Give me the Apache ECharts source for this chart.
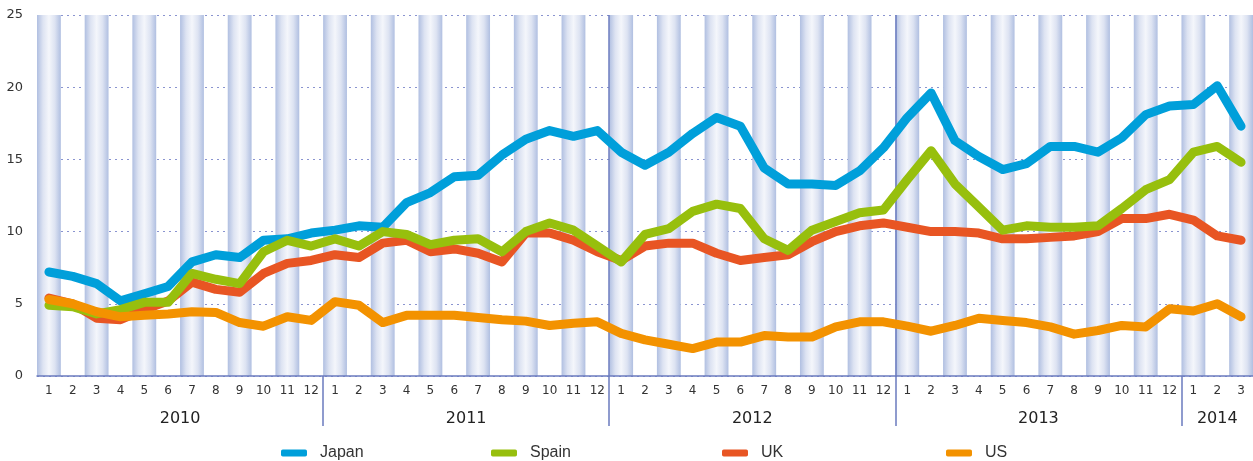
<!DOCTYPE html>
<html>
<head>
<meta charset="utf-8">
<script src="https://cdn.jsdelivr.net/npm/echarts@6/dist/echarts.min.js"></script>
<style>
  html, body { margin: 0; padding: 0; background: #fff; }
  #chart { width: 1253px; height: 461px; }
</style>
</head>
<body>
<div id="chart"></div>
<script>
// months Jan 2010 .. Mar 2014
const years = ['2010', '2011', '2012', '2013', '2014'];
const monthsInYear = [12, 12, 12, 12, 3];
const countries = ['Japan', 'Spain', 'UK', 'US'];

const japan = [7.2, 6.9, 6.4, 5.2, 5.7, 6.2, 7.9, 8.4, 8.2, 9.4, 9.5, 9.9,
  10.1, 10.4, 10.3, 12.0, 12.7, 13.8, 13.9, 15.3, 16.4, 17.0, 16.6, 17.0,
  15.5, 14.6, 15.5, 16.8, 17.9, 17.3, 14.4, 13.3, 13.3, 13.2, 14.2, 15.8,
  17.9, 19.6, 16.3, 15.2, 14.3, 14.7, 15.9, 15.9, 15.5, 16.5, 18.1, 18.7,
  18.8, 20.1, 17.3];
const spain = [4.9, 4.8, 4.3, 4.6, 5.1, 5.1, 7.1, 6.7, 6.4, 8.6, 9.4, 9.0,
  9.5, 9.0, 10.0, 9.8, 9.1, 9.4, 9.5, 8.6, 10.0, 10.6, 10.1, 9.0,
  7.9, 9.8, 10.2, 11.4, 11.9, 11.6, 9.5, 8.7, 10.1, 10.7, 11.3, 11.5,
  13.6, 15.6, 13.3, 11.7, 10.1, 10.4, 10.3, 10.3, 10.4, 11.6, 12.9, 13.6,
  15.5, 15.9, 14.8];
const uk = [5.4, 5.0, 4.0, 3.9, 4.6, 5.2, 6.5, 6.0, 5.8, 7.1, 7.8, 8.0,
  8.4, 8.2, 9.2, 9.4, 8.6, 8.8, 8.5, 7.9, 9.9, 9.9, 9.4, 8.6,
  8.0, 9.0, 9.2, 9.2, 8.5, 8.0, 8.2, 8.4, 9.3, 10.0, 10.4, 10.6,
  10.3, 10.0, 10.0, 9.9, 9.5, 9.5, 9.6, 9.7, 10.0, 10.9, 10.9, 11.2,
  10.8, 9.7, 9.4];
const us = [5.3, 5.0, 4.45, 4.1, 4.2, 4.3, 4.45, 4.4, 3.7, 3.45, 4.1, 3.85,
  5.15, 4.9, 3.7, 4.2, 4.2, 4.2, 4.05, 3.9, 3.8, 3.5, 3.65, 3.75,
  2.95, 2.5, 2.2, 1.9, 2.35, 2.35, 2.8, 2.7, 2.7, 3.4, 3.75, 3.75,
  3.45, 3.1, 3.5, 4.0, 3.85, 3.7, 3.4, 2.9, 3.15, 3.5, 3.4, 4.65,
  4.5, 5.0, 4.1];

// month tick labels 1..12 per year
let months = [];
let yearEnds = [];   // separators between years
let yearMids = [];   // where year labels go
let acc = 0;
monthsInYear.forEach((n, i) => {
  for (let m = 1; m <= n; m++) months.push(String(m));
  yearMids.push(acc + n / 2);
  acc += n;
  if (i < monthsInYear.length - 1) yearEnds.push(acc);
});
const total = acc;

const axisBlue = '#6b7bbf';
const font = 'DejaVu Sans';

// stripe fill (light blue column, darker at edges)
const stripe = new echarts.graphic.LinearGradient(0, 0, 1, 0, [
  { offset: 0, color: '#b0bfe1' },
  { offset: 0.25, color: '#dde3f2' },
  { offset: 0.5, color: '#f4f6fb' },
  { offset: 0.75, color: '#dde3f2' },
  { offset: 1, color: '#b0bfe1' }
]);

const myChart = echarts.init(document.getElementById('chart'));

function line(name, data, color, z) {
  return {
    name: name,
    type: 'line',
    data: data,
    symbol: 'none',
    z: z,
    lineStyle: { color: color, width: 9, cap: 'round', join: 'round' },
    itemStyle: { color: color }
  };
}

// one legend box per country, spaced like the original
const legendLeft = [281, 491, 722, 946];
const legends = countries.map((c, i) => ({
  left: legendLeft[i],
  top: 445,
  padding: 0,
  itemWidth: 26,
  itemHeight: 7,
  icon: 'roundRect',
  textStyle: { fontFamily: 'Liberation Sans Narrow, Liberation Sans', fontSize: 16, color: '#333', padding: [0, 0, 0, 8] },
  data: [c]
}));

myChart.setOption({
  animation: false,
  grid: { left: 37, right: 0, top: 15, bottom: 85, containLabel: false },
  legend: legends,
  xAxis: [
    {
      type: 'category',
      data: months,
      boundaryGap: true,
      axisLine: { show: true, lineStyle: { color: axisBlue, width: 1.5 } },
      axisTick: { show: false },
      axisLabel: { interval: 0, margin: 9, fontSize: 12, color: '#333', fontFamily: font },
      splitLine: { show: false },
      splitArea: {
        show: true,
        interval: 0,
        areaStyle: { color: [stripe, 'rgba(255,255,255,0)'] }
      }
    },
    {
      type: 'value',
      min: 0,
      max: total,
      interval: 12,
      position: 'bottom',
      axisLine: { show: false },
      axisTick: {
        show: true,
        customValues: yearEnds,
        length: 50,
        lineStyle: { color: axisBlue, width: 1.5 }
      },
      axisLabel: {
        customValues: yearMids,
        margin: 35,
        fontSize: 16,
        color: '#222',
        fontFamily: font,
        formatter: function (v) {
          let s = 0;
          for (let i = 0; i < monthsInYear.length; i++) {
            if (v < s + monthsInYear[i]) return years[i];
            s += monthsInYear[i];
          }
          return '';
        }
      },
      splitLine: {
        show: true,
        showMinLine: false,
        showMaxLine: false,
        lineStyle: { color: axisBlue, width: 1.5 }
      }
    }
  ],
  yAxis: {
    type: 'value',
    min: 0,
    max: 25,
    interval: 5,
    axisLine: { show: false },
    axisTick: { show: false },
    axisLabel: { margin: 14, fontSize: 13, color: '#333', fontFamily: font },
    splitLine: { show: true, lineStyle: { color: '#8a94d0', width: 1, type: [2, 4] } }
  },
  series: [
    line('Japan', japan, '#009fda', 2),
    line('Spain', spain, '#97bf0d', 4),
    line('UK', uk, '#e85523', 3),
    line('US', us, '#f39200', 5)
  ]
});
</script>
</body>
</html>
